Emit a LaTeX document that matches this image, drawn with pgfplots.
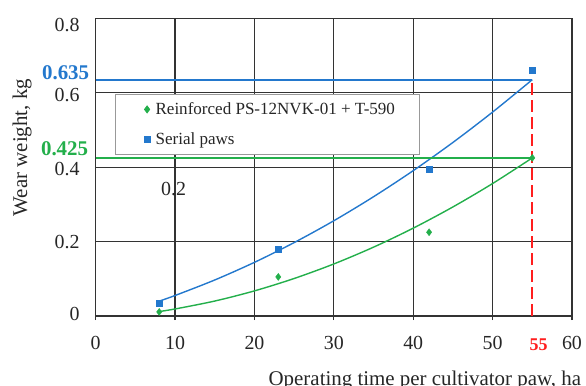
\documentclass[border=0pt]{standalone}
\usepackage{fontspec}
\setmainfont{Liberation Serif}
\usepackage{pgfplots}
\pgfplotsset{compat=1.18}
\definecolor{sblue}{RGB}{35,120,205}
\definecolor{sgreen}{RGB}{35,175,75}
\definecolor{sred}{RGB}{255,30,30}
\begin{document}
\begin{tikzpicture}
\begin{axis}[
  at={(0,0)}, anchor=south west,
  scale only axis, width=476.3bp, height=297.7bp,
  xmin=0, xmax=60, ymin=0, ymax=0.8,
  xtick={0,10,20,30,40,50,60},
  ytick={0,0.2,0.4,0.6,0.8},
  yticklabels={\raisebox{2.7bp}{0},0.2,\raisebox{-1.3bp}{0.4},\raisebox{-1.7bp}{0.6},\raisebox{-6.7bp}{0.8}},
  /pgf/number format/assume math mode=true,
  grid=major,
  major grid style={black!80, line width=1.2bp},
  axis line style={black!80, line width=1.2bp},
  tick align=outside, xtick pos=bottom, ytick pos=left,
  major tick length=4bp,
  tick style={black!80, line width=1.2bp},
  ytick style={draw=none},
  ticklabel style={font=\fontsize{20}{20}\selectfont, text=black!85},
  xticklabel style={inner sep=0pt, yshift=-16bp},
  yticklabel style={inner sep=0pt, anchor=base east, xshift=-12bp, yshift=-6.8bp},
  xlabel={Operating time per cultivator paw, ha},
  xlabel style={at={(rel axis cs:0.691,-0.235)}, anchor=base, inner sep=0pt, font=\fontsize{21}{21}\selectfont, text=black!85},
  ylabel={Wear weight, kg},
  ylabel style={at={(rel axis cs:-0.1547,0.566)}, anchor=center, inner sep=0pt, font=\fontsize{21}{21}\selectfont, text=black!85},
  clip=false,
  legend style={at={(rel axis cs:0.0405,0.7447)}, anchor=north west,
    draw=black!40, line width=0.8bp, fill=white,
    font=\fontsize{17.1}{17.1}\selectfont, text=black!85,
    inner xsep=0pt, inner ysep=0pt, row sep=0.6bp},
  legend cell align=left,
  legend image code/.code={%
    \path[draw=none, fill=none] (-31.7bp,-14.7bp) rectangle (6.5bp,14.7bp);
    \draw[#1] plot coordinates {(0bp,0bp)};},
]
\addplot[only marks, mark=diamond*, mark size=3.5bp, color=sgreen]
  coordinates {(8,0.011) (23,0.105) (42,0.225) (55,0.425)};
\addlegendentry{Reinforced PS-12NVK-01 + T-590\rule{22bp}{0pt}}
\addplot[only marks, mark=square*, mark size=3bp, color=sblue]
  coordinates {(8,0.035) (23,0.18) (42,0.395) (55,0.66)};
\addlegendentry{Serial paws}
% trend lines
\addplot[sgreen, line width=1.4bp, smooth, forget plot] coordinates {
 (8,0.0120) (10,0.0189) (15,0.0402) (20,0.0675) (25,0.1008) (30,0.1399)
 (35,0.1850) (40,0.2361) (45,0.2931) (50,0.3560) (55,0.4249)};
\addplot[sblue, line width=1.4bp, smooth, forget plot] coordinates {
 (8,0.0400) (10,0.0551) (15,0.0968) (20,0.1442) (25,0.1973) (30,0.2560)
 (35,0.3205) (40,0.3906) (45,0.4664) (50,0.5480) (55,0.6351)};
% reference lines
\addplot[sblue, line width=1.8bp, forget plot] coordinates {(0,0.635) (55,0.635)};
\addplot[sgreen, line width=1.8bp, forget plot] coordinates {(0,0.425) (55,0.425)};
\addplot[sred, line width=1.8bp, dash pattern=on 12bp off 5bp, forget plot] coordinates {(55,0) (55,0.635)};
% labels
\node[anchor=base east, inner sep=0pt, text=sblue, font=\bfseries\fontsize{21}{21}\selectfont] at (axis cs:-0.8,0.635) {0.635};
\node[anchor=base east, inner sep=0pt, text=sgreen, font=\bfseries\fontsize{21}{21}\selectfont] at (axis cs:-0.93,0.430) {0.425};
\node[anchor=base, inner sep=0pt, text=sred, font=\bfseries\fontsize{18}{18}\selectfont] at (axis cs:55.8,-0.093) {55};
\node[anchor=base, inner sep=0pt, text=black!85, font=\fontsize{20}{20}\selectfont] at (axis cs:9.82,0.325) {0.2};
\end{axis}
\pgfresetboundingbox
\path[use as bounding box] (-95.7bp,-70bp) rectangle (490.3bp,316bp);
\end{tikzpicture}
\end{document}
